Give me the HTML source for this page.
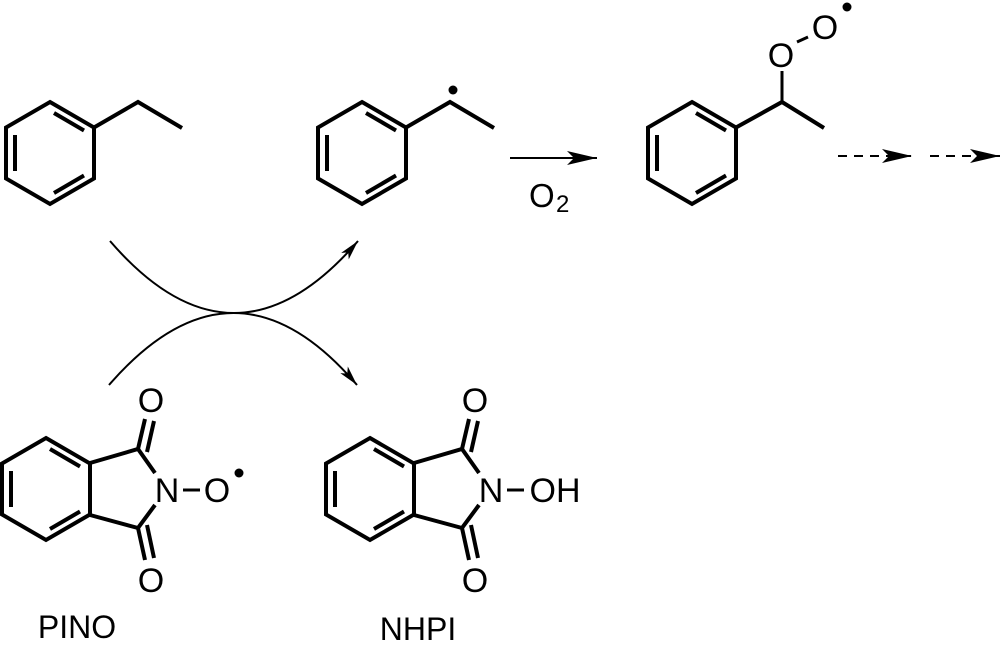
<!DOCTYPE html>
<html><head><meta charset="utf-8"><style>
html,body{margin:0;padding:0;background:#fff;}
svg{display:block;}
text{font-family:"Liberation Sans",sans-serif;fill:#000;}
</style></head><body>
<svg width="1000" height="651" viewBox="0 0 1000 651" xmlns="http://www.w3.org/2000/svg">
<defs>
<g id="benz" fill="none" stroke="#000" stroke-width="4" stroke-linejoin="miter">
<polygon points="0,-51 44,-25.5 44,25.5 0,51 -44,25.5 -44,-25.5"/>
<line x1="4" y1="-40" x2="34" y2="-22.5"/>
<line x1="-35" y1="-18" x2="-35" y2="18"/>
<line x1="34" y1="22.5" x2="4" y2="40"/>
</g>
<g id="phth">
<use href="#benz" transform="translate(46,489)"/>
<g fill="none" stroke="#000" stroke-width="4">
<polyline points="90,463 138,449 155,473"/>
<polyline points="90,515 138,528 155,505"/>
<line x1="138" y1="449" x2="145" y2="419"/>
<line x1="147" y1="452" x2="154" y2="421"/>
<line x1="138" y1="528" x2="145" y2="560"/>
<line x1="147" y1="525" x2="154" y2="558"/>
</g>
<text x="151" y="412" font-size="34" text-anchor="middle">O</text>
<text x="151" y="592" font-size="34" text-anchor="middle">O</text>
<text x="167" y="502" font-size="34" text-anchor="middle">N</text>
<line x1="183" y1="490" x2="200" y2="490" stroke="#000" stroke-width="3"/>
</g>
<marker id="ah" viewBox="0 0 20 10" refX="20" refY="5" markerWidth="20" markerHeight="10" markerUnits="userSpaceOnUse" orient="auto">
<path d="M0,0 L20,5 L0,10 L5,5 Z" fill="#000"/>
</marker>
<marker id="ah2" viewBox="0 0 30 14" refX="30" refY="7" markerWidth="30" markerHeight="14" markerUnits="userSpaceOnUse" orient="auto">
<path d="M0,0 L30,7 L0,14 L7,7 Z" fill="#000"/>
</marker>
</defs>

<use href="#benz" transform="translate(50,153)"/>
<polyline points="94,127.5 138,102 182,128" fill="none" stroke="#000" stroke-width="4"/>

<use href="#benz" transform="translate(362,153)"/>
<polyline points="406,127.5 450,102 494,128" fill="none" stroke="#000" stroke-width="4"/>
<circle cx="453" cy="90" r="4.5" fill="#000"/>

<line x1="510" y1="158" x2="597" y2="158" stroke="#000" stroke-width="2" marker-end="url(#ah2)"/>
<text x="529" y="207" font-size="33">O</text>
<text x="556" y="212" font-size="24">2</text>

<use href="#benz" transform="translate(692,153)"/>
<polyline points="736,127.5 782,102 824,128" fill="none" stroke="#000" stroke-width="4"/>
<line x1="782" y1="102" x2="782" y2="71" stroke="#000" stroke-width="3"/>
<text x="781" y="67" font-size="34" text-anchor="middle">O</text>
<line x1="797" y1="42" x2="808" y2="37" stroke="#000" stroke-width="3"/>
<text x="825" y="39" font-size="34" text-anchor="middle">O</text>
<circle cx="847" cy="7" r="4.5" fill="#000"/>

<line x1="838" y1="156" x2="912" y2="156" stroke="#000" stroke-width="2" stroke-dasharray="9,7" marker-end="url(#ah2)"/>
<line x1="930" y1="156" x2="1000" y2="156" stroke="#000" stroke-width="2" stroke-dasharray="9,7" marker-end="url(#ah2)"/>

<path d="M110,241 Q234,385 358,241" fill="none" stroke="#000" stroke-width="2" marker-end="url(#ah)"/>
<path d="M109,385 Q234,241 357,385" fill="none" stroke="#000" stroke-width="2" marker-end="url(#ah)"/>

<use href="#phth"/>
<text x="217" y="502" font-size="34" text-anchor="middle">O</text>
<circle cx="239" cy="473" r="4.5" fill="#000"/>
<text x="77" y="638" font-size="32" text-anchor="middle">PINO</text>

<use href="#phth" transform="translate(324,0)"/>
<text x="555" y="502" font-size="34" text-anchor="middle">OH</text>
<text x="418" y="640" font-size="32" text-anchor="middle">NHPI</text>
</svg>
</body></html>
